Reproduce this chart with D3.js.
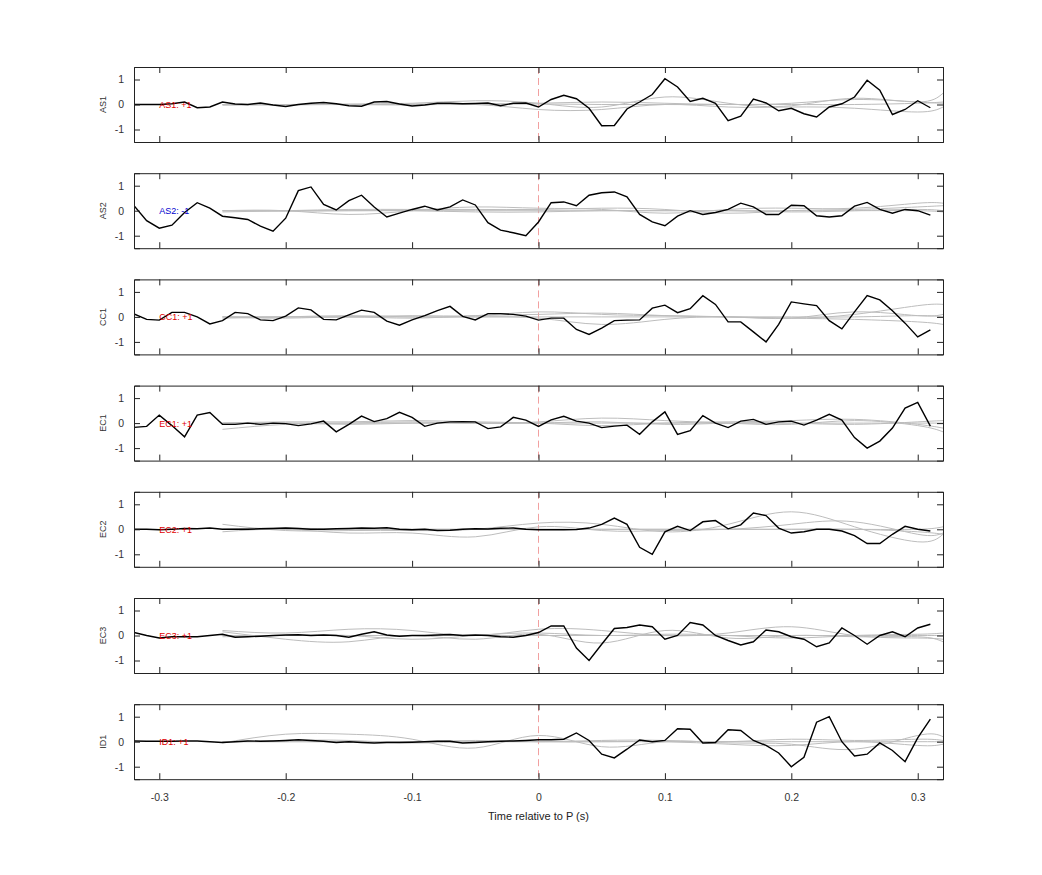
<!DOCTYPE html>
<html>
<head>
<meta charset="utf-8">
<script src="https://cdn.jsdelivr.net/npm/d3@7"></script>
<style>
  body { margin: 0; background: #fff; }
  text { font-family: "Liberation Sans", Arial, sans-serif; }
</style>
</head>
<body>
<div id="chart"></div>
<script>
// canaux et signe
const channels = ["AS1", "AS2", "CC1", "EC1", "EC2", "EC3", "ID1"];
const signs = ["+1", "-1", "+1", "+1", "+1", "+1", "+1"];
const signColors = ["#e00000", "#0000d0", "#e00000", "#e00000", "#e00000", "#e00000", "#e00000"];

// temps du signal moyen : -0.32 .. 0.31 par pas de 0.01
const times = d3.range(64).map(i => Math.round((-0.32 + i * 0.01) * 100) / 100);
const xTicks = [-0.3, -0.2, -0.1, 0, 0.1, 0.2, 0.3];
const yTicks = [-1, 0, 1];

const as1 = [0, 0, 0, 0.03, 0.1, -0.13, -0.1, 0.1, 0.02, 0, 0.06, -0.02, -0.08, 0, 0.05, 0.08,
  0.03, -0.05, -0.07, 0.1, 0.12, 0.02, -0.06, -0.02, 0.05, 0.05, 0.03, 0.04, 0.06, -0.05, 0.05, 0.06,
  -0.1, 0.2, 0.37, 0.23, -0.15, -0.85, -0.84, -0.18, 0.1, 0.4, 1.03, 0.7, 0.12, 0.25, 0.05, -0.65,
  -0.47, 0.22, 0.06, -0.25, -0.15, -0.37, -0.5, -0.1, 0.03, 0.3, 0.97, 0.57, -0.4, -0.2, 0.15, -0.13];
const as2 = [0.2, -0.4, -0.7, -0.58, -0.07, 0.32, 0.1, -0.22, -0.28, -0.35, -0.62, -0.82, -0.3, 0.8, 0.95, 0.25,
  0.03, 0.4, 0.62, 0.15, -0.25, -0.1, 0.05, 0.18, 0.03, 0.15, 0.43, 0.23, -0.48, -0.78, -0.88, -1.0,
  -0.45, 0.32, 0.35, 0.2, 0.62, 0.72, 0.75, 0.55, -0.15, -0.45, -0.6, -0.22, 0, -0.15, -0.07, 0.05,
  0.3, 0.15, -0.15, -0.15, 0.22, 0.2, -0.2, -0.25, -0.2, 0.18, 0.33, 0.05, -0.1, 0.05, 0, -0.18];
const cc1 = [0.12, -0.1, -0.13, 0.18, 0.18, 0, -0.28, -0.15, 0.18, 0.13, -0.12, -0.15, 0.03, 0.36, 0.28, -0.1,
  -0.12, 0.08, 0.27, 0.18, -0.17, -0.33, -0.12, 0.05, 0.25, 0.42, 0.02, -0.12, 0.13, 0.13, 0.1, 0.03,
  -0.13, -0.05, -0.05, -0.5, -0.7, -0.45, -0.15, -0.13, -0.12, 0.35, 0.47, 0.17, 0.33, 0.85, 0.5, -0.2,
  -0.2, -0.6, -1.0, -0.3, 0.6, 0.52, 0.45, -0.15, -0.48, 0.2, 0.85, 0.68, 0.25, -0.25, -0.8, -0.52];
const ec1 = [-0.17, -0.13, 0.32, -0.1, -0.55, 0.32, 0.42, -0.05, -0.05, 0, -0.05, 0, -0.02, -0.1, -0.03, 0.08,
  -0.35, -0.05, 0.28, 0.06, 0.18, 0.43, 0.23, -0.13, 0, 0.05, 0.06, 0.05, -0.22, -0.15, 0.23, 0.12,
  -0.13, 0.13, 0.27, 0.08, 0, -0.18, -0.12, -0.08, -0.45, 0.05, 0.45, -0.45, -0.3, 0.3, 0, -0.18,
  0.08, 0.15, -0.05, 0.05, 0.08, -0.08, 0.12, 0.35, 0.12, -0.58, -1.0, -0.72, -0.2, 0.6, 0.83, -0.12];
const ec2 = [0, 0, -0.02, 0, 0.03, 0.02, 0.05, 0, 0, 0, 0.02, 0.03, 0.05, 0.03, 0, 0,
  0.02, 0.03, 0.05, 0.04, 0.06, 0, -0.02, 0, -0.05, -0.04, 0, 0.02, 0.01, 0.04, 0.05, 0,
  -0.02, -0.02, -0.02, -0.01, 0.05, 0.2, 0.45, 0.2, -0.72, -1.0, -0.1, 0.12, -0.05, 0.3, 0.35, 0.02,
  0.18, 0.65, 0.55, 0.05, -0.15, -0.1, 0, 0, -0.07, -0.25, -0.57, -0.57, -0.2, 0.12, 0, -0.07];
const ec3 = [0.12, 0, -0.1, -0.05, -0.05, -0.05, 0, 0.05, -0.07, -0.05, -0.03, 0, 0.02, 0.03, 0, 0.02,
  0, -0.07, 0.05, 0.15, 0.02, -0.03, 0, 0, 0.02, 0.04, 0, 0.02, 0, -0.05, -0.07, 0,
  0.12, 0.38, 0.38, -0.5, -1.0, -0.35, 0.28, 0.32, 0.42, 0.35, -0.15, 0, 0.52, 0.42, 0, -0.2,
  -0.38, -0.25, 0.22, 0.15, -0.05, -0.15, -0.45, -0.3, 0.3, 0, -0.35, 0, 0.15, -0.05, 0.3, 0.45];
const id1 = [0.03, 0.02, 0.02, 0.02, 0.03, 0.03, 0, -0.03, 0, 0.03, 0.02, 0.03, 0.05, 0.08, 0.05, 0.02,
  -0.03, 0, -0.03, -0.05, -0.03, -0.03, -0.02, 0, 0.02, 0.02, -0.05, -0.03, 0, 0.02, 0.03, 0.05,
  0.08, 0.08, 0.1, 0.35, 0.05, -0.5, -0.65, -0.3, 0.07, 0, 0.05, 0.52, 0.5, -0.05, -0.03, 0.48,
  0.45, 0.05, -0.15, -0.45, -1.0, -0.62, 0.78, 1.0, 0, -0.57, -0.5, -0.05, -0.35, -0.8, 0.15, 0.9];
const means = [as1, as2, cc1, ec1, ec2, ec3, id1];

// courbes grises (composantes lisses), noeuds de -0.25 à 0.32
const knots = [-0.25, -0.2, -0.15, -0.1, -0.05, 0, 0.05, 0.1, 0.15, 0.2, 0.25, 0.3, 0.32];
const greys = [
  [[0, 0, 0.02, 0.05, 0.15, 0.05, -0.1, 0.3, 0.05, -0.05, 0.25, 0.1, 0.45],
   [0, -0.02, 0, -0.02, 0, -0.2, -0.2, 0, -0.1, -0.1, -0.15, -0.3, -0.1],
   [-0.03, 0, 0, 0.02, 0.03, 0.05, 0.1, 0.05, 0, 0.05, 0.2, 0.1, 0.05],
   [0, 0, 0, 0, 0, 0.02, 0, 0, 0, 0, 0, 0.05, 0.1]],
  [[0, 0, -0.15, 0, 0.15, 0.1, 0.05, -0.1, 0.05, 0.1, 0.1, 0.3, 0.3],
   [-0.05, 0, 0.05, 0.05, 0.05, 0.05, 0.1, 0.05, -0.1, 0, 0.05, 0.15, 0.2],
   [0, -0.02, 0, 0, -0.05, -0.05, 0, 0, 0, -0.05, 0, 0.05, 0],
   [0, 0, 0, 0, 0, 0, 0, 0, 0, 0, 0, 0, -0.05]],
  [[0, 0, 0, 0.05, 0.05, 0.2, 0.1, 0.05, 0, -0.05, 0.1, 0.45, 0.5],
   [-0.05, 0, 0.05, 0, 0, -0.05, -0.3, -0.1, 0, -0.05, 0.2, 0.05, 0.1],
   [0, -0.05, 0, -0.05, 0.05, 0.1, 0.15, 0.05, 0, -0.05, -0.1, -0.2, -0.3],
   [0, 0, 0, 0, 0, 0, 0, 0, 0, 0, 0, 0.05, 0]],
  [[-0.25, -0.05, 0, 0.05, 0, 0.05, 0.2, 0.1, 0, -0.05, 0.1, -0.1, -0.35],
   [0, 0.05, 0.05, 0.1, 0.05, 0, -0.1, 0, 0.05, 0.1, 0.15, -0.05, -0.2],
   [0, 0, -0.05, 0, 0, 0, 0.05, -0.05, 0, 0, -0.05, 0.05, 0.1],
   [0, 0, 0, 0, 0, 0, 0, 0, 0, 0, 0, 0, 0]],
  [[0.2, -0.05, -0.05, -0.05, 0, 0.25, 0.2, -0.1, 0.2, 0.7, 0.1, -0.5, -0.2],
   [-0.1, 0, -0.15, -0.15, -0.3, 0.1, -0.05, -0.05, 0, 0.2, 0.3, -0.2, -0.15],
   [0, 0.05, 0, 0, 0, 0, 0, 0, 0, 0, 0, 0, 0.1],
   [0, 0, 0, 0, 0, 0, 0, 0, 0, 0, 0, -0.1, -0.2]],
  [[0.2, 0.1, 0.25, 0.2, 0, 0.25, 0.2, 0, 0.1, 0.35, 0, -0.1, -0.15],
   [0.15, -0.15, -0.25, 0, -0.15, 0.05, -0.3, 0.2, -0.1, 0, -0.05, -0.05, -0.25],
   [-0.05, 0, 0, -0.15, 0, 0.1, 0, 0.05, 0, -0.1, 0, 0.05, 0.1],
   [0, 0, 0, 0, 0, 0, 0, 0, 0, 0, 0, 0, 0]],
  [[-0.05, 0.3, 0.3, 0.1, -0.25, 0.25, -0.2, 0, -0.05, -0.1, -0.3, 0.25, 0.2],
   [0, 0.05, 0.05, -0.05, 0, 0, 0.05, 0.05, 0, 0.1, 0.05, 0.1, 0.05],
   [0, 0, 0, 0, 0.05, 0, 0, 0, -0.1, -0.15, 0, -0.15, -0.1],
   [0, 0, 0, 0, 0, 0, 0, 0, 0, 0, 0, 0, 0]]
];

const width = 1042, height = 875;
const left = 134, right = 943, panelH = 75, step = 106.2, top0 = 67;

const svg = d3.select("#chart").append("svg")
    .attr("width", width)
    .attr("height", height);

const x = d3.scaleLinear().domain([-0.32, 0.32]).range([left, right]);

const greyLine = d3.line().x((d, i) => x(knots[i])).curve(d3.curveNatural);
// libellés avec un tiret simple, comme l'original
const fmtX = d => d === 0 ? "0" : d.toFixed(1);

channels.forEach((ch, p) => {
    const top = top0 + p * step;
    const y = d3.scaleLinear().domain([-1.5, 1.5]).range([top + panelH, top]);
    const g = svg.append("g");

    g.append("defs").append("clipPath").attr("id", "clip" + p)
      .append("rect").attr("x", left).attr("y", top).attr("width", right - left).attr("height", panelH);

    const plot = g.append("g").attr("clip-path", `url(#clip${p})`);

    // ligne verticale à t = 0
    plot.append("line")
        .attr("x1", x(0)).attr("x2", x(0)).attr("y1", top).attr("y2", top + panelH)
        .attr("stroke", "#f2a0a0").attr("stroke-dasharray", "7,4");

    greys[p].forEach(vals => {
        plot.append("path")
            .attr("d", greyLine.y(d => y(d))(vals))
            .attr("fill", "none").attr("stroke", "#bdbdbd").attr("stroke-width", 1);
    });

    plot.append("path")
        .attr("d", d3.line().x((d, i) => x(times[i])).y(d => y(d))(means[p]))
        .attr("fill", "none").attr("stroke", "#000").attr("stroke-width", 1.4);

    // axes, ticks vers l'intérieur
    const axL = g.append("g").attr("transform", `translate(${left},0)`)
        .call(d3.axisLeft(y).tickValues(yTicks).tickSize(-6).tickPadding(10).tickFormat(d => String(d)));
    const axR = g.append("g").attr("transform", `translate(${right},0)`)
        .call(d3.axisRight(y).tickValues(yTicks).tickSize(-6).tickFormat(""));
    const axT = g.append("g").attr("transform", `translate(0,${top})`)
        .call(d3.axisTop(x).tickValues(xTicks).tickSize(-6).tickFormat(""));
    const axB = g.append("g").attr("transform", `translate(0,${top + panelH})`)
        .call(d3.axisBottom(x).tickValues(xTicks).tickSize(-6).tickPadding(14)
              .tickFormat(p === channels.length - 1 ? fmtX : ""));
    [axL, axR, axT, axB].forEach(a => {
        a.selectAll(".domain").attr("stroke", "#222");
        a.selectAll(".tick line").attr("stroke", "#222");
        a.selectAll("text").attr("font-size", 10.5).attr("fill", "#333");
    });

    g.append("text")
        .attr("transform", `translate(106,${y(0)}) rotate(-90)`)
        .attr("text-anchor", "middle").attr("font-size", 9).attr("fill", "#333")
        .text(ch);

    g.append("text")
        .attr("x", x(-0.3)).attr("y", y(0) + 3.5)
        .attr("font-size", 9).attr("fill", signColors[p])
        .text(`${ch}: ${signs[p]}`);
});

svg.append("text")
    .attr("x", x(0)).attr("y", 820)
    .attr("text-anchor", "middle").attr("font-size", 11).attr("fill", "#222")
    .text("Time relative to P (s)");
</script>
</body>
</html>
